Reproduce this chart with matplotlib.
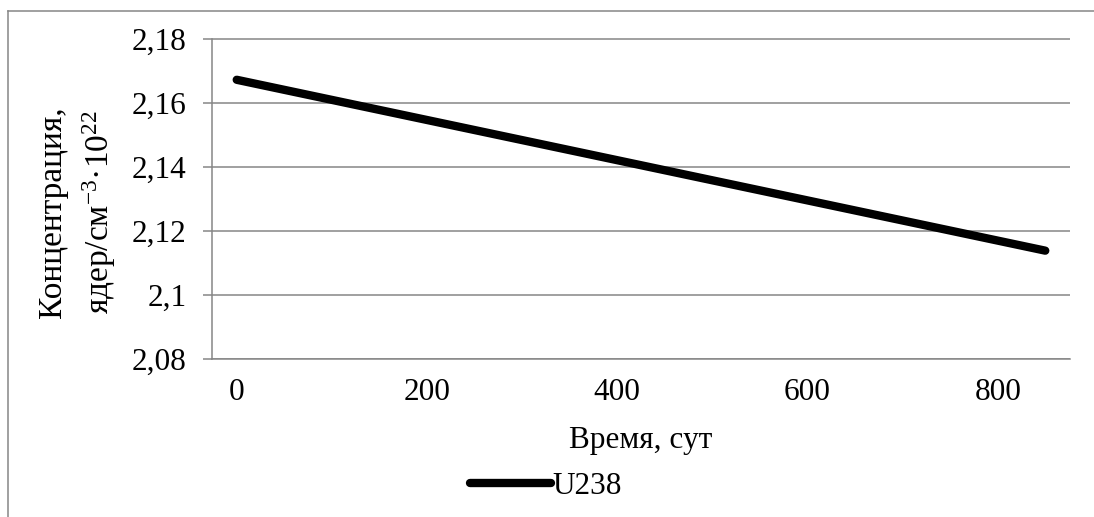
import matplotlib
matplotlib.use('Agg')
import matplotlib.pyplot as plt
from matplotlib.lines import Line2D

# data
days = [0, 850]
u238 = [2.1671, 2.1137]
y_ticks = [2.08, 2.10, 2.12, 2.14, 2.16, 2.18]
y_tick_labels = ['2,08', '2,1', '2,12', '2,14', '2,16', '2,18']
x_ticks = [0, 200, 400, 600, 800]

plt.rcParams['font.family'] = ['Liberation Serif', 'DejaVu Serif']
grey = '#868686'
fs = 22.5

fig = plt.figure(figsize=(10.94, 5.17), dpi=100)
ax = fig.add_axes([212 / 1094, 1 - 358.5 / 517, (1070 - 212) / 1094, (358.5 - 38.5) / 517])

ax.plot(days, u238, color='black', linewidth=6, solid_capstyle='round', label='U238')

ax.set_xlim(-26, 876)
ax.set_ylim(2.08, 2.18)
ax.set_yticks(y_ticks)
ax.set_yticklabels(y_tick_labels)
ax.set_xticks(x_ticks)
ax.grid(axis='y', color=grey, linewidth=1.1)
ax.set_axisbelow(True)

for s in ['top', 'right']:
    ax.spines[s].set_visible(False)
for s in ['left', 'bottom']:
    ax.spines[s].set_color(grey)
    ax.spines[s].set_linewidth(1.1)

ax.tick_params(axis='y', direction='out', length=6.5, width=1.1, color=grey, labelsize=fs, pad=12)
ax.tick_params(axis='x', length=0, labelsize=fs, pad=14)

ax.set_xlabel('Время, сут', fontsize=fs, labelpad=14)
fig.text(78 / 1094, 1 - 212 / 517, 'Концентрация,\nядер/см$\\mathregular{^{-3}}$·10$\\mathregular{^{22}}$',
         rotation=90, ha='center', va='center', fontsize=fs + 1.5, linespacing=1.45, multialignment='center')

ax.legend(loc='center', bbox_to_anchor=(546 / 1094, 1 - 486 / 517), bbox_transform=fig.transFigure,
          frameon=False, fontsize=fs, handlelength=2.6, handletextpad=0.05, borderpad=0)

# outer chart border (only the top and left edges are visible)
bx, by = 7.5 / 1094, 1 - 11 / 517
fig.add_artist(Line2D([bx, 1.01], [by, by], transform=fig.transFigure, color=grey, linewidth=1.1))
fig.add_artist(Line2D([bx, bx], [-0.01, by], transform=fig.transFigure, color=grey, linewidth=1.1))

fig.savefig('out.png', dpi=100)
